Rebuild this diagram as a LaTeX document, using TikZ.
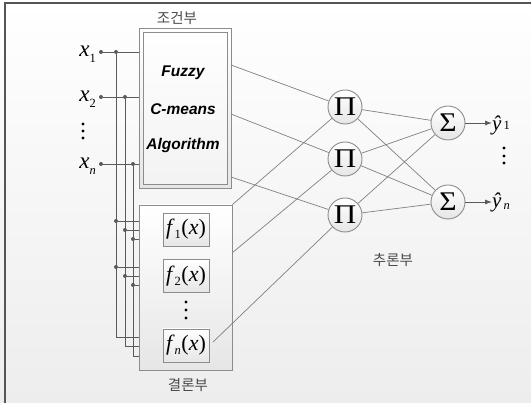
\documentclass[tikz,border=0pt]{standalone}
\usepackage{fontspec}
\setmainfont{Liberation Serif}
\newfontfamily\krfont{Noto Sans CJK KR}
\newfontfamily\algofont{Liberation Sans}
\usetikzlibrary{arrows.meta}

\definecolor{frameline}{HTML}{555555}
\definecolor{boxline}{HTML}{8C8C8C}
\definecolor{wire}{HTML}{808080}
\definecolor{bus}{HTML}{5A5A5A}
\definecolor{labelgray}{HTML}{4A4A4A}
\definecolor{bgbottom}{HTML}{EDEDED}
\definecolor{boxbottom}{HTML}{E6E6E6}

% lowered / raised small index after a symbol
\newcommand\idxlow[2]{\raisebox{#1}{\fontsize{12.5}{12.5}\selectfont #2}}

\begin{document}
\begin{tikzpicture}[x=1pt,y=-1pt,
  panel/.style={draw=boxline, line width=0.9pt, rectangle, inner sep=0pt,
    top color=white, bottom color=boxbottom},
  fbox/.style={panel, minimum width=46pt, minimum height=33pt,
    font=\fontsize{22}{22}\selectfont},
  op/.style={circle, draw=boxline, line width=0.9pt, minimum size=34pt,
    inner sep=0pt, top color=white, bottom color=boxbottom,
    font=\fontsize{27}{27}\selectfont},
  wireline/.style={draw=wire, line width=0.7pt},
  busline/.style={draw=bus, line width=0.8pt},
  junction/.style={circle, fill=bus, inner sep=0pt, minimum size=4pt},
  vdot/.style={circle, fill=black, inner sep=0pt, minimum size=3.2pt},
  kr/.style={font=\krfont\fontsize{14.5}{14.5}\selectfont, text=labelgray},
  algo/.style={font=\algofont\bfseries\itshape\fontsize{15.5}{15.5}\selectfont},
  inlabel/.style={anchor=base east, inner sep=0pt, font=\fontsize{23}{23}\selectfont},
  outlabel/.style={anchor=base west, inner sep=0pt, font=\fontsize{21}{21}\selectfont},
]

% canvas and frame
\useasboundingbox (0,0) rectangle (531,403);
\fill[top color=white, bottom color=bgbottom] (0,0) rectangle (531,403);
\draw[frameline, line width=1.3pt] (5,403) -- (5,3) -- (531,3);

% premise part: fuzzy c-means block
\node[panel, minimum width=92pt, minimum height=160pt] (cond) at (185,108) {};
\node[draw=boxline, line width=0.9pt, fill=white, fill opacity=0.5, draw opacity=1,
      minimum width=84pt, minimum height=152pt, inner sep=0pt] (condin) at (185.5,108.5) {};
\node[algo] (fuzzy) at (183,73) {Fuzzy};
\node[algo] (cmeans) at (183,109) {C-means};
\node[algo] (algorithm) at (183,145) {Algorithm};
\node[kr] (condlabel) at (177,18) {조건부};

% consequent part
\node[panel, minimum width=93pt, minimum height=165pt] (conc) at (185.5,287.5) {};
\node[fbox] (f1) at (186,229.5) {\textit{f}\idxlow{-4pt}{1}\kern0.5pt(\textit{x})};
\node[fbox] (f2) at (186,276) {\textit{f}\idxlow{-4pt}{2}\kern0.5pt(\textit{x})};
\node[fbox] (fn) at (186,345.5) {\textit{f}\idxlow{-4pt}{\textit{n}}\kern0.5pt(\textit{x})};
\node[kr] (conclabel) at (188,385) {결론부};

% inference part
\node[op] (p1) at (345,107) {\scalebox{1.15}[1]{Π}};
\node[op] (p2) at (345,159) {\scalebox{1.15}[1]{Π}};
\node[op] (p3) at (345,215) {\scalebox{1.15}[1]{Π}};
\node[op] (s1) at (448,123) {\scalebox{1.1}[1]{Σ}};
\node[op] (s2) at (448,202) {\scalebox{1.1}[1]{Σ}};
\node[kr] (inflabel) at (393,260) {추론부};

% inputs
\node[inlabel] (x1) at (96,57) {\textit{x}\idxlow{-6pt}{1}};
\node[inlabel] (x2) at (96,102) {\textit{x}\idxlow{-6pt}{2}};
\node[inlabel] (xn) at (96,169) {\textit{x}\idxlow{-6pt}{\textit{n}}};
\node[junction] (d1) at (101,52) {};
\node[junction] (d2) at (101,97) {};
\node[junction] (dn) at (101,164) {};
\node[junction] (j1) at (116,52) {};
\node[junction] (j2) at (125,97) {};
\node[junction] (j3) at (133,164) {};

% outputs
\node[outlabel] (y1) at (492,131) {\textit{\^{y}}\kern2pt\idxlow{1pt}{1}};
\node[outlabel] (yn) at (492,208) {\textit{\^{y}}\kern2pt\idxlow{-2pt}{\textit{n}}};

% vertical ellipses
\foreach \yy [count=\i] in {124,131,138} \node[vdot] (ea\i) at (83,\yy) {};
\foreach \yy [count=\i] in {302,310,318} \node[vdot] (eb\i) at (186,\yy) {};
\foreach \yy [count=\i] in {148,156,163} \node[vdot] (ec\i) at (504,\yy) {};

% input bus
\draw[busline] (d1) -- (j1) -- (cond.west |- j1);
\draw[busline] (d2) -- (j2) -- (cond.west |- j2);
\draw[busline] (dn) -- (j3) -- (cond.west |- j3);

\coordinate (b1) at (139,337);
\coordinate (b2) at (139,346);
\coordinate (b3) at (139,356);
\draw[busline] (j1) -- (j1 |- b1) -- (b1);
\draw[busline] (j2) -- (j2 |- b2) -- (b2);
\draw[busline] (j3) -- (j3 |- b3) -- (b3);

\node[junction] (k1) at (116,221) {};
\node[junction] (k2) at (125,230) {};
\node[junction] (k3) at (133,239) {};
\node[junction] (k4) at (116,267) {};
\node[junction] (k5) at (125,276) {};
\node[junction] (k6) at (133,285) {};
\foreach \k in {k1,k2,k3,k4,k5,k6}
  \draw[busline] (\k) -- (\k -| conc.west);

% premise outputs to product nodes
\coordinate (c1) at (231,65);
\coordinate (c2) at (231,114);
\coordinate (c3) at (231,177);
\draw[wireline] (c1) -- (p1);
\draw[wireline] (c2) -- (p2);
\draw[wireline] (c3) -- (p3);

% consequent outputs to product nodes
\coordinate (e2) at (232,253);
\coordinate (e3) at (213,342);
\draw[wireline] (conc.north east) -- (p1);
\draw[wireline] (e2) -- (p2);
\draw[wireline] (e3) -- (p3);

% product to sum layer
\foreach \p in {p1,p2,p3}
  \foreach \s in {s1,s2}
    \draw[wireline] (\p) -- (\s);

% outputs
\draw[busline, -{Latex[length=7pt,width=5pt]}] (s1) -- (s1 -| y1.west);
\draw[busline, -{Latex[length=7pt,width=5pt]}] (s2) -- (s2 -| yn.west);

\end{tikzpicture}
\end{document}
